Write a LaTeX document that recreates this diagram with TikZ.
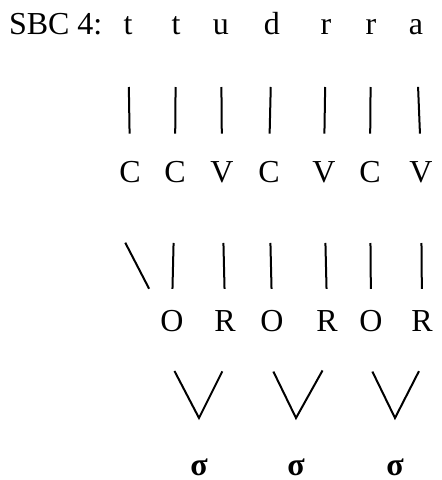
\documentclass[tikz,border=0pt]{standalone}
\usepackage{fontspec}
\setmainfont{Liberation Serif}
\usetikzlibrary{positioning}

\begin{document}
\begin{tikzpicture}[
    x=0.75pt,y=-0.75pt,
    line width=1.5pt,
    every node/.style={inner sep=0pt,anchor=base,text height=16pt,text depth=0pt,
        font=\fontsize{24}{28}\selectfont}
]
    \useasboundingbox (0,0) rectangle (442,480);
    \node[anchor=base west] (sbc) at (8,34) {SBC 4:};
    % segments
    \node (s1) at (128,34) {t};
    \node (s2) at (176,34) {t};
    \node (s3) at (221,34) {u};
    \node (s4) at (272,34) {d};
    \node (s5) at (326,34) {r};
    \node (s6) at (371,34) {r};
    \node (s7) at (416,34) {a};
    % CV tier
    \node (c1) at (130,182) {C};
    \node (c2) at (175,182) {C};
    \node (c3) at (222,182) {V};
    \node (c4) at (269,182) {C};
    \node (c5) at (324,182) {V};
    \node (c6) at (370,182) {C};
    \node (c7) at (421,182) {V};
    % onsets and rhymes
    \node (o1) at (172,331) {O};
    \node (r1) at (225,331) {R};
    \node (o2) at (272,331) {O};
    \node (r2) at (327,331) {R};
    \node (o3) at (371,331) {O};
    \node (r3) at (422,331) {R};
    % syllables
    \node[font=\fontsize{24}{28}\selectfont\bfseries] (g1) at (199,475) {σ};
    \node[font=\fontsize{24}{28}\selectfont\bfseries] (g2) at (296,475) {σ};
    \node[font=\fontsize{24}{28}\selectfont\bfseries] (g3) at (395,475) {σ};
    \draw[shorten <=39pt,shorten >=19.5pt] (s1.south)--(c1.north);
    \draw[shorten <=39pt,shorten >=19.5pt] (s2.south)--(c2.north);
    \draw[shorten <=39pt,shorten >=19.5pt] (s3.south)--(c3.north);
    \draw[shorten <=39pt,shorten >=19.5pt] (s4.south)--(c4.north);
    \draw[shorten <=39pt,shorten >=19.5pt] (s5.south)--(c5.north);
    \draw[shorten <=39pt,shorten >=19.5pt] (s6.south)--(c6.north);
    \draw[shorten <=39pt,shorten >=19.5pt] (s7.south)--(c7.north);
    \draw[shorten <=50.4pt,shorten >=16.8pt] ([xshift=-18pt]c1.south west)--(o1.north west);
    \draw[shorten <=45pt,shorten >=14.8pt] (c2.south)--(o1.north);
    \draw[shorten <=45pt,shorten >=14.8pt] (c3.south)--(r1.north);
    \draw[shorten <=45pt,shorten >=14.8pt] (c4.south)--(o2.north);
    \draw[shorten <=45pt,shorten >=14.8pt] (c5.south)--(r2.north);
    \draw[shorten <=45pt,shorten >=14.8pt] (c6.south)--(o3.north);
    \draw[shorten <=45pt,shorten >=14.8pt] (c7.south)--(r3.north);
    \draw[shorten <=33pt,shorten >=33pt] ([xshift=-4pt]o1.south west)--([yshift=26pt]g1.north)--([xshift=4pt]r1.south east);
    \draw[shorten <=33pt,shorten >=33pt] ([xshift=-4pt]o2.south west)--([yshift=26pt]g2.north)--([xshift=4pt]r2.south east);
    \draw[shorten <=33pt,shorten >=33pt] ([xshift=-4pt]o3.south west)--([yshift=26pt]g3.north)--([xshift=4pt]r3.south east);
\end{tikzpicture}
\end{document}
